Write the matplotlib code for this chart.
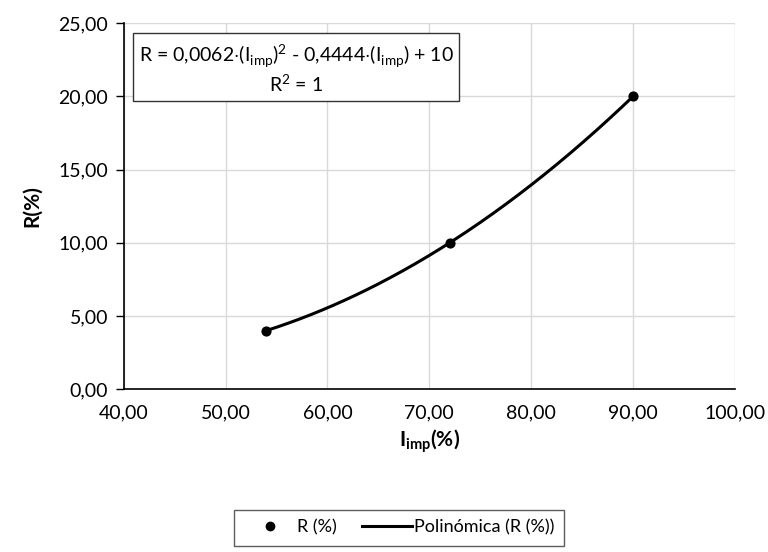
import numpy as np
import matplotlib.pyplot as plt
from matplotlib.lines import Line2D

plt.rcParams['font.family'] = ['Lato', 'DejaVu Sans']
plt.rcParams['mathtext.fontset'] = 'custom'
plt.rcParams['mathtext.rm'] = 'Lato'

# Data
i_imp = [54, 72, 90]
r_pct = [4, 10, 20]
x_ticks = [40, 50, 60, 70, 80, 90, 100]
y_ticks = [0, 5, 10, 15, 20, 25]

# 2nd order trendline through the points
coef = np.polyfit(i_imp, r_pct, 2)
xs = np.linspace(min(i_imp), max(i_imp), 200)
ys = np.polyval(coef, xs)

fig = plt.figure(figsize=(7.68, 5.52), dpi=100)
ax = fig.add_axes([0.161, 0.295, 0.796, 0.663])

ax.plot(xs, ys, color='black', lw=2.2, zorder=3)
ax.scatter(i_imp, r_pct, s=40, color='black', zorder=4)

ax.set_xlim(40, 100)
ax.set_ylim(0, 25)
ax.set_xticks(x_ticks)
ax.set_yticks(y_ticks)
ax.set_xticklabels([f'{v:.2f}'.replace('.', ',') for v in x_ticks], fontsize=14)
ax.set_yticklabels([f'{v:.2f}'.replace('.', ',') for v in y_ticks], fontsize=14)
ax.grid(True, color='#d9d9d9', lw=1)
ax.set_axisbelow(True)
for s in ['top', 'right']:
    ax.spines[s].set_visible(False)
ax.spines['left'].set_linewidth(1.2)
ax.spines['bottom'].set_linewidth(1.2)
ax.tick_params(axis='y', length=6, width=1, pad=5)
ax.tick_params(axis='x', length=0, pad=11)

ax.set_ylabel('R(%)', fontsize=15, fontweight='bold', labelpad=12)
ax.set_xlabel(r'I$_{\mathregular{imp}}$(%)', fontsize=15, fontweight='bold', labelpad=4)

eq = (r'R = 0,0062$\cdot$(I$_{\mathregular{imp}}$)$^{\mathregular{2}}$ - '
      r'0,4444$\cdot$(I$_{\mathregular{imp}}$) + 10' '\n' r'R$^{\mathregular{2}}$ = 1')
ax.text(0.282, 0.875, eq, transform=ax.transAxes, ha='center', va='center',
        fontsize=14, multialignment='center', linespacing=1.15,
        bbox=dict(boxstyle='square,pad=0.3', fc='white', ec='#333333', lw=1))

handles = [
    Line2D([], [], marker='o', ls='none', color='black', markersize=6),
    Line2D([], [], color='black', lw=2.2),
]
fig.legend(handles, ['R (%)', 'Polinómica (R (%))'], loc='lower center',
           bbox_to_anchor=(0.52, -0.005), ncol=2, fontsize=13, frameon=True,
           fancybox=False, edgecolor='#333333', handlelength=2.8,
           columnspacing=1.4, borderpad=0.55, handletextpad=0.1)

fig.savefig('out.png', dpi=100)
